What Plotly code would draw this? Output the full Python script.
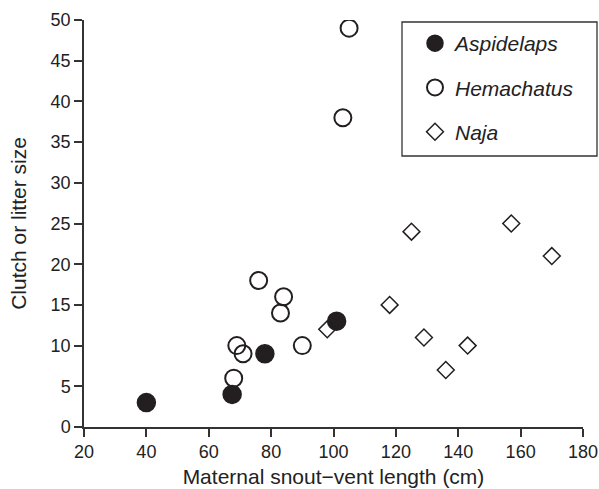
import plotly.graph_objects as go

aspidelaps_svl = [40, 67.5, 78, 101]
aspidelaps_n = [3, 4, 9, 13]
hemachatus_svl = [68, 69, 71, 76, 83, 84, 90, 103, 105]
hemachatus_n = [6, 10, 9, 18, 14, 16, 10, 38, 49]
naja_svl = [98, 118, 125, 129, 136, 143, 157, 170]
naja_n = [12, 15, 24, 11, 7, 10, 25, 21]

x_ticks = [20, 40, 60, 80, 100, 120, 140, 160, 180]
y_ticks = [0, 5, 10, 15, 20, 25, 30, 35, 40, 45, 50]

FONT = "Liberation Sans, Arial, sans-serif"
INK = "#231f20"

fig = go.Figure()
fig.add_trace(go.Scatter(
    x=aspidelaps_svl, y=aspidelaps_n, mode="markers", name="<i>Aspidelaps</i>",
    legendgroup="a",
    marker=dict(symbol="circle", size=18, color=INK, line=dict(color=INK, width=1.5)),
))
fig.add_trace(go.Scatter(
    x=hemachatus_svl, y=hemachatus_n, mode="markers", name="<i>Hemachatus</i>",
    legendgroup="h",
    marker=dict(symbol="circle-open", size=17, color=INK, line=dict(color=INK, width=2)),
))
fig.add_trace(go.Scatter(
    x=naja_svl, y=naja_n, mode="markers", name="<i>Naja</i>",
    legendgroup="n",
    marker=dict(symbol="diamond-open", size=13, color=INK, line=dict(color=INK, width=1.5)),
))

axis_common = dict(
    showgrid=False, zeroline=False, showline=True, linecolor="#333333", linewidth=1.5,
    ticks="outside", ticklen=8, tickwidth=1.5, tickcolor="#333333",
    tickfont=dict(family=FONT, size=18, color="#222222"),
    title_font=dict(family=FONT, size=21, color="#222222"),
    automargin=False,
)

fig.update_xaxes(range=[20, 180], tickvals=x_ticks, ticktext=[str(v) for v in x_ticks],
                 title_text="Maternal snout\u2212vent length (cm)", title_standoff=8,
                 **axis_common)
fig.update_yaxes(range=[0, 50], tickvals=y_ticks, ticktext=[str(v) for v in y_ticks],
                 title_text="Clutch or litter size", title_standoff=18,
                 **axis_common)

# legend frame (paper fractions of the 499x407 plot area)
fig.add_shape(type="rect", xref="paper", yref="paper",
              x0=(402 - 84) / 499, x1=(597 - 84) / 499,
              y0=(427 - 156) / 407, y1=(427 - 22) / 407,
              line=dict(color="#333333", width=1.3), fillcolor="rgba(0,0,0,0)", layer="above")

fig.update_layout(
    width=599, height=489,
    margin=dict(l=84, r=16, t=20, b=62),
    plot_bgcolor="white", paper_bgcolor="white",
    showlegend=True,
    legend=dict(
        x=(415 - 84) / 499, y=(427 - 23) / 407, xanchor="left", yanchor="top",
        borderwidth=0, bgcolor="rgba(0,0,0,0)",
        font=dict(family=FONT, size=21, color="#222222"),
        tracegroupgap=14, itemsizing="trace",
    ),
)

fig.write_html(
    "out.html",
    config={"displayModeBar": False},
    post_script="document.body.style.margin='0';document.body.style.overflow='hidden';",
)
